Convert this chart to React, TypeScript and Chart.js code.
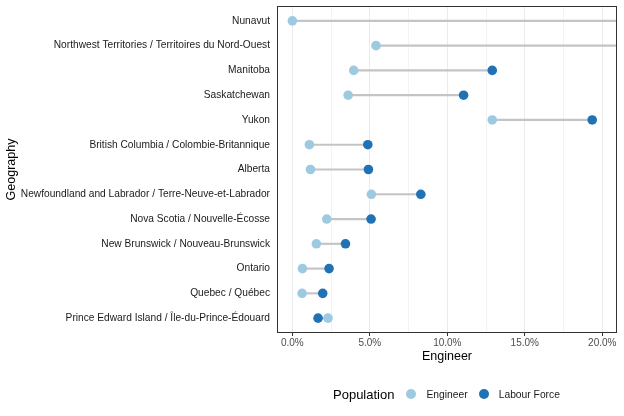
import React, { useEffect, useRef } from "react";
import { Chart, registerables } from "chart.js";

Chart.register(...registerables);

const categories = [
  "Nunavut",
  "Northwest Territories / Territoires du Nord-Ouest",
  "Manitoba",
  "Saskatchewan",
  "Yukon",
  "British Columbia / Colombie-Britannique",
  "Alberta",
  "Newfoundland and Labrador / Terre-Neuve-et-Labrador",
  "Nova Scotia / Nouvelle-Écosse",
  "New Brunswick / Nouveau-Brunswick",
  "Ontario",
  "Quebec / Québec",
  "Prince Edward Island / Île-du-Prince-Édouard",
];

const engineerValues = [0.0, 5.4, 3.96, 3.6, 12.9, 1.1, 1.17, 5.1, 2.22, 1.55, 0.65, 0.63, 2.3];
const labourForceValues = [30.0, 26.0, 12.9, 11.05, 19.35, 4.87, 4.91, 8.29, 5.08, 3.43, 2.37, 1.96, 1.66];

const xTickValues = [0, 2.5, 5, 7.5, 10, 12.5, 15, 17.5, 20];

const seriesNames = ["Engineer", "Labour Force"];
const seriesColors = ["#9ecae1", "#2171b5"];
const legendTitle = "Population";
const xTitle = "Engineer";
const yTitle = "Geography";

const FONT = "'Liberation Sans', Arial, sans-serif";

const panelBorder = {
  id: "panelBorder",
  afterDraw(chart: any) {
    const { ctx, chartArea } = chart;
    ctx.save();
    ctx.strokeStyle = "#333333";
    ctx.lineWidth = 1;
    ctx.strokeRect(
      Math.round(chartArea.left) + 0.5,
      Math.round(chartArea.top) + 0.5,
      Math.round(chartArea.right - chartArea.left) - 1,
      Math.round(chartArea.bottom - chartArea.top) - 1
    );
    ctx.restore();
  },
};

export default function App() {
  const ref = useRef<HTMLCanvasElement | null>(null);

  useEffect(() => {
    if (!ref.current) return;
    const isMajor = (v: number) => Math.abs(v % 5) < 1e-9;
    const chart = new Chart(ref.current, {
      type: "scatter",
      data: {
        datasets: [
          {
            type: "bar",
            label: "segments",
            indexAxis: "y",
            data: categories.map((_, i) => ({ y: i, x: [engineerValues[i], labourForceValues[i]] })),
            backgroundColor: "#c4c4c4",
            borderWidth: 0,
            barThickness: 1.5,
            order: 3,
          } as any,
          {
            label: seriesNames[0],
            data: categories.map((_, i) => ({ x: engineerValues[i], y: i })),
            backgroundColor: seriesColors[0],
            borderWidth: 0,
            pointRadius: 4.8,
            order: 2,
          },
          {
            label: seriesNames[1],
            data: categories.map((_, i) => ({ x: labourForceValues[i], y: i })),
            backgroundColor: seriesColors[1],
            borderWidth: 0,
            pointRadius: 4.8,
            order: 1,
          },
        ],
      },
      plugins: [panelBorder],
      options: {
        responsive: false,
        animation: false,
        layout: { padding: { left: 4, right: 7, top: 6, bottom: 52 } },
        plugins: {
          legend: { display: false },
          tooltip: { enabled: false },
        },
        scales: {
          x: {
            type: "linear",
            min: -0.99,
            max: 20.95,
            offset: false,
            afterBuildTicks: (scale: any) => {
              scale.ticks = xTickValues.map((v) => ({ value: v }));
            },
            afterFit: (scale: any) => {
              scale.height = 31;
              scale.paddingLeft = 0;
              scale.paddingRight = 0;
            },
            border: { display: false },
            grid: {
              offset: false,
              color: "#ebebeb",
              lineWidth: (ctx: any) => (isMajor(ctx.tick?.value ?? 0) ? 1 : 0.6),
              drawTicks: true,
              tickLength: 3,
              tickColor: (ctx: any) => (isMajor(ctx.tick?.value ?? 0) ? "#333333" : "rgba(0,0,0,0)"),
              tickWidth: 1,
            },
            ticks: {
              autoSkip: false,
              maxRotation: 0,
              padding: 1,
              color: "#4d4d4d",
              font: { family: FONT, size: 10 },
              callback: (v: any) => (isMajor(Number(v)) ? Number(v).toFixed(1) + "%" : ""),
            },
            title: {
              display: true,
              text: xTitle,
              color: "#000000",
              font: { family: FONT, size: 12.5 },
              padding: { top: 0, bottom: 0 },
            },
          },
          y: {
            type: "linear",
            min: -0.6,
            max: 12.6,
            reverse: true,
            offset: false,
            afterBuildTicks: (scale: any) => {
              scale.ticks = categories.map((_, i) => ({ value: i }));
            },
            afterFit: (scale: any) => {
              scale.width = 273;
              scale.paddingTop = 0;
              scale.paddingBottom = 0;
            },
            border: { display: false },
            grid: { display: false, drawTicks: false, offset: false },
            ticks: {
              autoSkip: false,
              padding: 7,
              color: "#1a1a1a",
              font: { family: FONT, size: 10.2 },
              callback: (v: any) => categories[Number(v)] ?? "",
            },
            title: {
              display: true,
              text: yTitle,
              color: "#000000",
              font: { family: FONT, size: 12.5 },
              padding: { top: 0, bottom: 0 },
            },
          },
        },
      } as any,
    });
    return () => chart.destroy();
  }, []);

  return (
    <div style={{ position: "absolute", left: 0, top: 0, width: 624, height: 416, background: "#ffffff" }}>
      <canvas ref={ref} width={624} height={416} style={{ display: "block" }} />
      <div
        style={{
          position: "absolute",
          left: 333,
          top: 386,
          height: 16,
          display: "flex",
          alignItems: "center",
          fontFamily: FONT,
          color: "#000000",
          whiteSpace: "nowrap",
        }}
      >
        <span style={{ fontSize: 13, marginRight: 12 }}>{legendTitle}</span>
        {seriesNames.map((name, i) => (
          <React.Fragment key={name}>
            <span
              style={{
                display: "inline-block",
                width: 10,
                height: 10,
                borderRadius: "50%",
                background: seriesColors[i],
                marginRight: 10,
              }}
            />
            <span style={{ fontSize: 10.3, marginRight: 11, color: "#1a1a1a" }}>{name}</span>
          </React.Fragment>
        ))}
      </div>
    </div>
  );
}
